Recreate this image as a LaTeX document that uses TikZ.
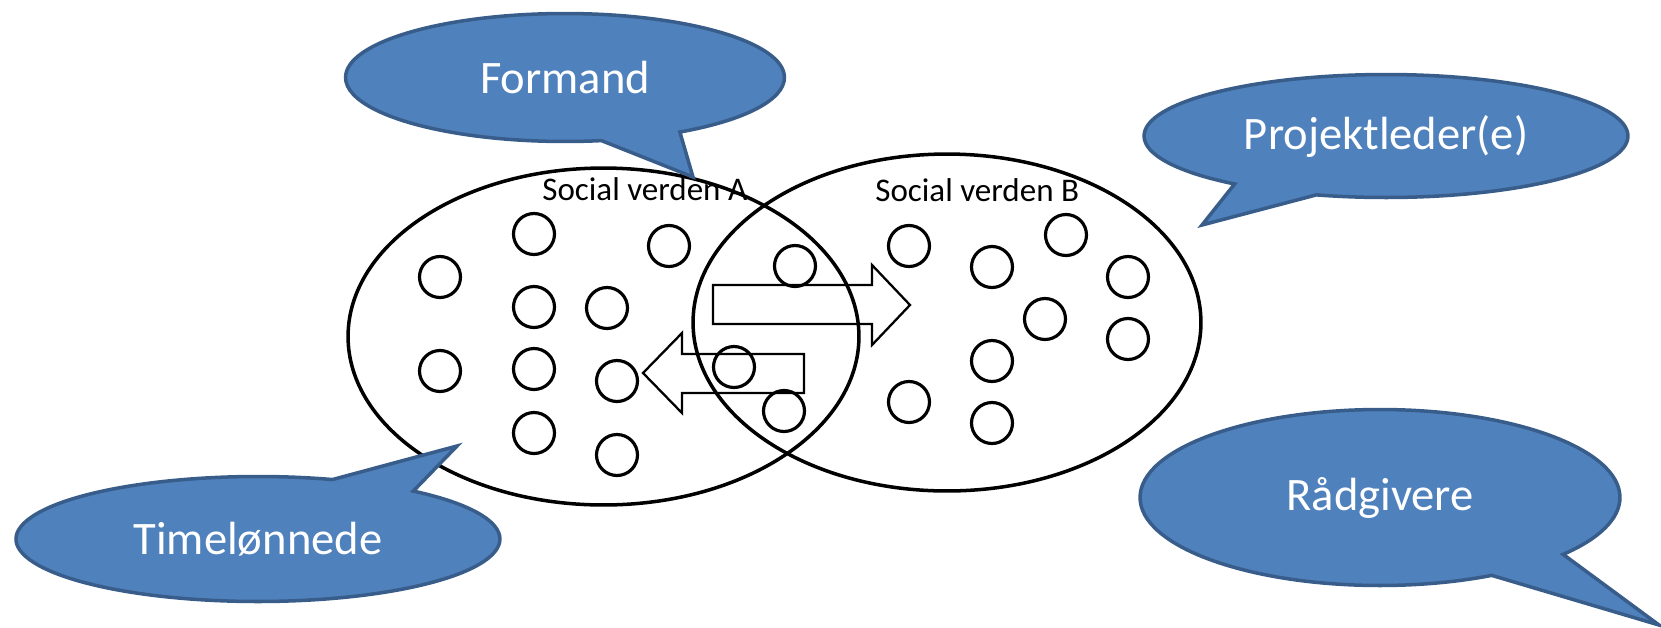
\documentclass[tikz,border=0pt]{standalone}
\usepackage{fontspec}
\setmainfont{Carlito}
\usetikzlibrary{shapes.geometric,shapes.callouts}
\definecolor{bubblefill}{HTML}{4F81BD}
\definecolor{bubbleline}{HTML}{385D8A}

\begin{document}
\begin{tikzpicture}[x=0.02cm, y=-0.02cm,
	world/.style={ellipse, draw, line width=2pt, inner sep=0pt, minimum height=6.74cm},
	member/.style={line width=1.8pt},
	flow/.style={line width=1.3pt, line join=miter},
	worldlabel/.style={anchor=base west, inner sep=0pt, font=\fontsize{18.8pt}{22pt}\selectfont},
	bubble/.style={ellipse callout, fill=bubblefill, draw=bubbleline, line width=2pt, inner sep=0pt,
		callout pointer arc=22, text=white, font=\fontsize{26.5pt}{30pt}\selectfont}]
	\useasboundingbox (0,0) rectangle (1661,627);

	% the two social worlds
	\node[world, minimum width=10.22cm] (verdenA) at (603.5,336.5) {};
	\node[world, minimum width=10.16cm] (verdenB) at (947,322.5) {};
	\node[worldlabel] (labelA) at (542,200) {Social verden A};
	\node[worldlabel] (labelB) at (875,201) {Social verden B};

	% members
	\foreach \x/\y in {534/234, 669/246, 440/277, 534/307, 607/308, 440/371, 534/369, 617/381,
		534/433, 617/455, 734/367, 795/266, 784/411}
		\draw[member] (\x,\y) circle (20.5);
	\foreach \x/\y in {909/246, 992/267, 1066/235, 1128/277, 1045/319, 1128/339, 992/361,
		909/402, 992/423}
		\draw[member] (\x,\y) circle (20.5);

	% exchange between the worlds
	\draw[flow] (713,285) -- (872,285) -- (872,265) -- (910,305) -- (872,345) -- (872,324) -- (713,324) -- cycle;
	\draw[flow] (804,354) -- (682,354) -- (682,333) -- (643,373) -- (682,413) -- (682,393) -- (804,393) -- cycle;

	% roles
	\node[bubble, minimum width=8.78cm, minimum height=2.56cm, callout absolute pointer={(693,177)}]
		(formand) at (565,77.5) {Formand};
	\node[bubble, minimum width=9.68cm, minimum height=2.46cm, callout absolute pointer={(1202,225)}]
		(projektleder) at (1386,136) {Projektleder(e)};
	\node[bubble, minimum width=9.68cm, minimum height=2.5cm, callout absolute pointer={(457,446)}]
		(timeloennede) at (258,539) {Timelønnede};
	\node[bubble, minimum width=9.6cm, minimum height=3.52cm, callout absolute pointer={(1659,625)}]
		(raadgivere) at (1380,497.5) {Rådgivere};
\end{tikzpicture}
\end{document}
